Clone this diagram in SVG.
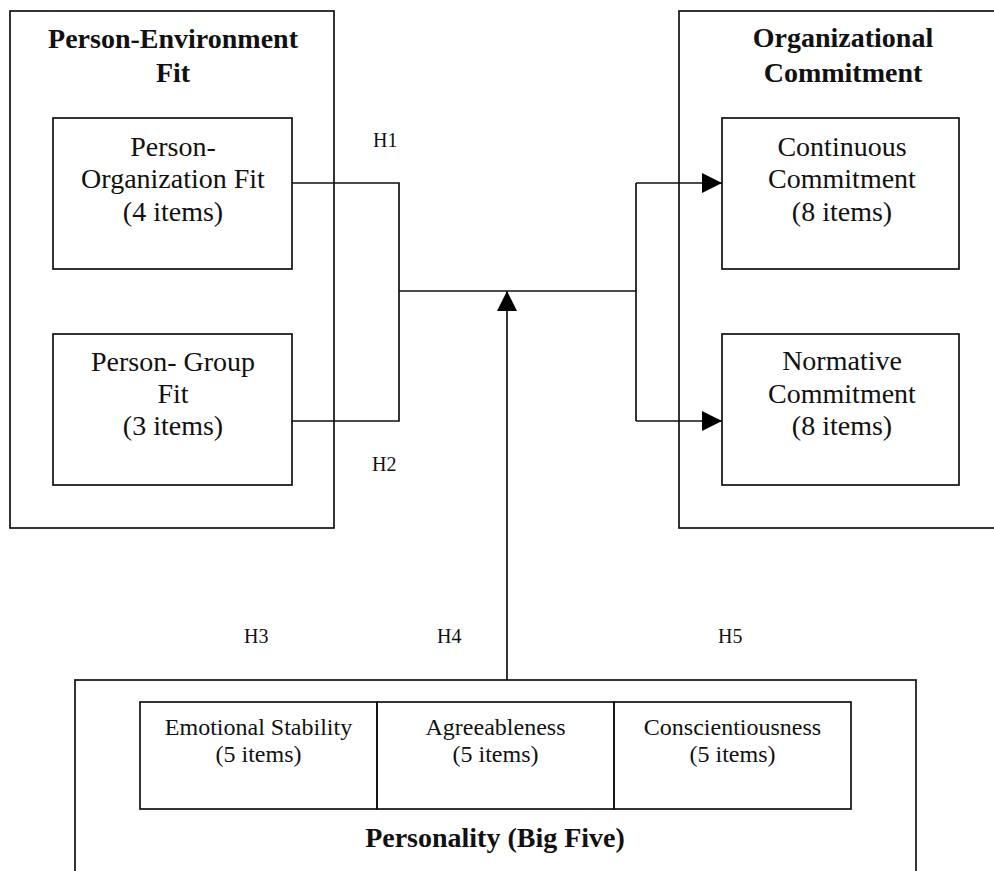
<svg xmlns="http://www.w3.org/2000/svg" width="994" height="871" viewBox="0 0 994 871">
<style>
.box{fill:none;stroke:#111;stroke-width:1.7}
.ln{fill:none;stroke:#111;stroke-width:1.7}
text{font-family:"Liberation Serif","Times New Roman",serif;fill:#111;text-anchor:middle}
.t{font-size:28px;font-weight:bold}
.b{font-size:28px}
.s{font-size:24px}
.h{font-size:20px;text-anchor:start}
</style>
<defs>
<marker id="arr" markerUnits="userSpaceOnUse" markerWidth="20" markerHeight="20" viewBox="0 0 18 18" refX="18" refY="9" orient="auto">
<path d="M0,0 L18,9 L0,18 Z" fill="#000"/>
</marker>
</defs>
<rect width="994" height="871" fill="#fff"/>
<g id="person-environment-fit">
<rect class="box" x="10" y="11" width="324" height="517"/>
<text class="t" x="173" y="48">Person-Environment</text>
<text class="t" x="173" y="82">Fit</text>
</g>
<g id="po-fit">
<rect class="box" x="53" y="118" width="239" height="151"/>
<text class="b" x="173" y="156">Person-</text>
<text class="b" x="173" y="188">Organization Fit</text>
<text class="b" x="173" y="221">(4 items)</text>
</g>
<g id="pg-fit">
<rect class="box" x="53" y="334" width="239" height="151"/>
<text class="b" x="173" y="371">Person- Group</text>
<text class="b" x="173" y="403">Fit</text>
<text class="b" x="173" y="435">(3 items)</text>
</g>
<g id="organizational-commitment">
<rect class="box" x="679" y="11" width="330" height="517"/>
<text class="t" x="843" y="47">Organizational</text>
<text class="t" x="843" y="82">Commitment</text>
</g>
<g id="continuous-commitment">
<rect class="box" x="722" y="118" width="237" height="151"/>
<text class="b" x="842" y="156">Continuous</text>
<text class="b" x="842" y="188">Commitment</text>
<text class="b" x="842" y="221">(8 items)</text>
</g>
<g id="normative-commitment">
<rect class="box" x="722" y="334" width="237" height="151"/>
<text class="b" x="842" y="370">Normative</text>
<text class="b" x="842" y="403">Commitment</text>
<text class="b" x="842" y="435">(8 items)</text>
</g>
<g id="personality">
<rect class="box" x="75" y="680" width="841" height="200"/>
<text class="t" x="495" y="847">Personality (Big Five)</text>
</g>
<g id="emotional-stability">
<rect class="box" x="140" y="702" width="237" height="107"/>
<text class="s" x="258.5" y="735">Emotional Stability</text>
<text class="s" x="258.5" y="762">(5 items)</text>
</g>
<g id="agreeableness">
<rect class="box" x="377" y="702" width="237" height="107"/>
<text class="s" x="495.5" y="735">Agreeableness</text>
<text class="s" x="495.5" y="762">(5 items)</text>
</g>
<g id="conscientiousness">
<rect class="box" x="614" y="702" width="237" height="107"/>
<text class="s" x="732.5" y="735">Conscientiousness</text>
<text class="s" x="732.5" y="762">(5 items)</text>
</g>
<g id="connectors">
<polyline class="ln" points="292,183 399,183 399,421 292,421"/>
<line class="ln" x1="399" y1="291" x2="636" y2="291"/>
<line class="ln" x1="636" y1="183" x2="636" y2="421"/>
<line class="ln" x1="636" y1="183" x2="722" y2="183" marker-end="url(#arr)"/>
<line class="ln" x1="636" y1="421" x2="722" y2="421" marker-end="url(#arr)"/>
<line class="ln" x1="507" y1="680" x2="507" y2="291" marker-end="url(#arr)"/>
</g>
<g id="labels">
<text class="h" x="373" y="147">H1</text>
<text class="h" x="372" y="471">H2</text>
<text class="h" x="244" y="643">H3</text>
<text class="h" x="437" y="643">H4</text>
<text class="h" x="718" y="643">H5</text>
</g>
</svg>
